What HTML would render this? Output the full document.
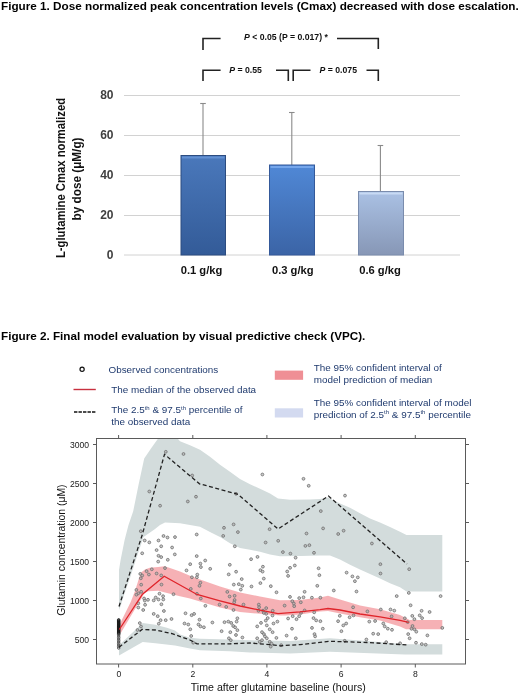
<!DOCTYPE html>
<html><head><meta charset="utf-8"><style>
html,body{margin:0;padding:0;background:#fff;width:520px;height:695px;overflow:hidden}
svg{display:block;will-change:transform;font-family:"Liberation Sans",sans-serif}
</style></head><body>
<svg width="520" height="695" viewBox="0 0 520 695">
<defs>
<linearGradient id="b1" x1="0" y1="0" x2="0" y2="1"><stop offset="0" stop-color="#4a78bb"/><stop offset="1" stop-color="#335b98"/></linearGradient>
<linearGradient id="b2" x1="0" y1="0" x2="0" y2="1"><stop offset="0" stop-color="#5088d6"/><stop offset="1" stop-color="#3b64a6"/></linearGradient>
<linearGradient id="b3" x1="0" y1="0" x2="0" y2="1"><stop offset="0" stop-color="#aac1e4"/><stop offset="1" stop-color="#8797b6"/></linearGradient>
</defs>
<!-- Figure 1 -->
<text x="1" y="9.6" font-size="11.73" font-weight="bold" fill="#000">Figure 1. Dose normalized peak concentration levels (Cmax) decreased with dose escalation.</text>
<g stroke="#d2d2d2" stroke-width="1">
<line x1="124" y1="95.5" x2="460" y2="95.5"/><line x1="124" y1="135.5" x2="460" y2="135.5"/><line x1="124" y1="175.5" x2="460" y2="175.5"/><line x1="124" y1="215.5" x2="460" y2="215.5"/><line x1="124" y1="255" x2="460" y2="255"/>
</g>
<g font-size="12" font-weight="bold" fill="#404040" text-anchor="end">
<text x="113.5" y="99.2">80</text><text x="113.5" y="139.2">60</text><text x="113.5" y="179.2">40</text><text x="113.5" y="219.2">20</text><text x="113.5" y="259.2">0</text>
</g>
<g stroke="#8a8a8a" stroke-width="1.1">
<line x1="203" y1="103.5" x2="203" y2="156"/><line x1="200.2" y1="103.5" x2="205.8" y2="103.5"/>
<line x1="291.8" y1="112.5" x2="291.8" y2="165"/><line x1="289" y1="112.5" x2="294.6" y2="112.5"/>
<line x1="380.4" y1="145.5" x2="380.4" y2="192"/><line x1="377.6" y1="145.5" x2="383.2" y2="145.5"/>
</g>
<rect x="181" y="155.5" width="44.5" height="99.5" fill="url(#b1)" stroke="#2c4c80" stroke-width="1"/>
<rect x="182" y="156.5" width="42.5" height="2" fill="#6a97d8" opacity="0.8"/>
<rect x="269.5" y="165" width="45" height="90" fill="url(#b2)" stroke="#34599a" stroke-width="1"/>
<rect x="270.5" y="166" width="43" height="2" fill="#7eaef0" opacity="0.8"/>
<rect x="358.5" y="191.5" width="45" height="63.5" fill="url(#b3)" stroke="#7a8cad" stroke-width="1"/>
<rect x="359.5" y="192.5" width="43" height="2" fill="#d0e0f8" opacity="0.8"/>
<g font-size="11.2" font-weight="bold" fill="#111" text-anchor="middle">
<text x="201.5" y="274.2">0.1 g/kg</text><text x="292.8" y="274.2">0.3 g/kg</text><text x="380" y="274.2">0.6 g/kg</text>
</g>
<g font-size="12" font-weight="bold" fill="#111" text-anchor="middle">
<text transform="translate(65.4,178) rotate(-90) scale(0.94,1)">L-glutamine Cmax normalized</text>
<text transform="translate(80.8,179) rotate(-90) scale(0.98,1)">by dose (μM/g)</text>
</g>
<g stroke="#222" stroke-width="1.6" fill="none">
<path d="M203,50 V38.5 H220.6"/><path d="M337,38.5 H378.3 V49"/>
<path d="M203,81 V70.3 H220.6"/><path d="M276,70.3 H288.3 V81"/>
<path d="M293.2,81 V70.3 H310.5"/><path d="M366.5,70.3 H378.3 V81"/>
</g>
<g font-size="8.7" font-weight="bold" fill="#111">
<text x="244" y="39.8"><tspan font-style="italic">P</tspan> &lt; 0.05 (P = 0.017) *</text>
<text x="229.2" y="72.8"><tspan font-style="italic">P</tspan> = 0.55</text>
<text x="319.6" y="72.8"><tspan font-style="italic">P</tspan> = 0.075</text>
</g>

<!-- Figure 2 -->
<text x="1" y="339.8" font-size="11.7" font-weight="bold" fill="#000">Figure 2. Final model evaluation by visual predictive check (VPC).</text>
<g font-size="9.9" fill="#1f3a6e">
<text x="108.5" y="372.6">Observed concentrations</text>
<text x="111.2" y="392.8">The median of the observed data</text>
<text x="111.2" y="413">The 2.5<tspan font-size="6" dy="-3.5">th</tspan><tspan dy="3.5"> &amp; 97.5</tspan><tspan font-size="6" dy="-3.5">th</tspan><tspan dy="3.5"> percentile of</tspan></text>
<text x="111.2" y="424.6">the observed data</text>
<text x="313.8" y="371">The 95% confident interval of</text>
<text x="313.8" y="383.4">model prediction of median</text>
<text x="313.8" y="405.7">The 95% confident interval of model</text>
<text x="313.8" y="417.8">prediction of 2.5<tspan font-size="6" dy="-3.5">th</tspan><tspan dy="3.5"> &amp; 97.5</tspan><tspan font-size="6" dy="-3.5">th</tspan><tspan dy="3.5"> percentile</tspan></text>
</g>
<circle cx="82.1" cy="369.3" r="2.1" fill="none" stroke="#111" stroke-width="1.2"/>
<line x1="73.5" y1="389.5" x2="95.8" y2="389.5" stroke="#c8303f" stroke-width="1.4"/>
<line x1="74" y1="412" x2="95.4" y2="412" stroke="#111" stroke-width="1.4" stroke-dasharray="3.4,1.1"/>
<rect x="274.8" y="370.6" width="28.3" height="9.2" fill="#ef8f95"/>
<rect x="274.8" y="408.3" width="28.3" height="9.2" fill="#d3daf0"/>

<!-- plot area -->
<clipPath id="pc"><rect x="97.5" y="439" width="367.5" height="224"/></clipPath>
<g clip-path="url(#pc)">
<polygon points="119.0,610.0 119.0,570.0 120.6,560.0 124.6,540.0 128.5,525.0 133.2,511.2 138.5,485.0 144.2,458.6 151.5,447.7 159.2,437.0 176.2,437.0 180.0,441.2 190.0,445.2 200.0,449.8 210.0,456.8 220.0,464.8 230.0,471.8 240.0,479.0 250.0,484.2 260.0,488.8 270.0,493.4 278.0,498.6 290.0,499.7 310.0,499.4 320.0,499.0 328.0,497.5 340.0,503.6 350.0,507.7 360.0,513.2 370.0,518.5 380.0,522.5 390.0,527.1 400.0,531.7 406.5,535.0 442.3,535.0 442.3,591.5 406.5,591.5 400.0,587.3 390.0,583.3 380.0,578.6 370.0,574.0 360.0,569.4 350.0,564.8 340.0,559.5 330.0,555.6 320.0,555.4 300.0,556.0 280.0,556.2 270.0,554.6 260.0,551.8 250.0,549.8 240.0,548.0 230.0,543.2 220.0,537.0 210.0,531.9 200.0,526.7 180.0,523.3 165.0,522.5 160.0,525.0 154.7,529.3 143.5,537.0 136.5,558.0 130.0,578.0 124.0,595.0 121.0,605.0" fill="#d3dcdc"/>
<polygon points="119.0,645.3 142.7,623.1 155.4,624.8 166.9,627.7 175.0,630.5 180.0,634.6 190.0,637.7 200.0,638.8 220.0,639.2 250.0,640.3 290.0,641.0 330.0,638.3 370.0,641.2 405.0,644.2 442.3,644.2 442.3,654.6 405.0,654.6 330.0,651.8 290.0,653.6 250.0,652.4 230.0,651.2 200.0,650.2 190.0,648.4 175.0,645.6 155.4,643.3 142.7,642.1 119.0,655.4" fill="#d3dcdc"/>
<polygon points="119.6,624.5 130.7,602.0 135.0,590.9 138.7,579.3 141.0,572.4 145.0,569.5 149.7,567.8 158.0,567.0 164.5,566.3 170.0,568.1 180.0,571.5 190.0,575.8 200.0,579.5 220.0,586.5 240.0,592.5 260.0,596.5 280.0,600.3 300.0,600.0 320.0,597.5 328.0,595.8 340.0,599.6 360.0,605.4 380.0,609.2 400.0,615.0 409.6,620.0 442.3,620.0 442.3,629.3 406.0,629.3 400.0,626.5 380.0,620.4 360.0,617.2 340.0,613.5 328.0,611.0 320.0,611.5 300.0,614.6 285.0,615.6 280.0,615.5 260.0,613.8 240.0,611.9 220.0,607.5 210.0,604.5 200.0,601.5 190.0,598.5 180.0,596.2 170.0,593.8 158.3,590.7 148.2,591.2 144.0,593.5 142.0,597.5 136.5,606.5 120.5,633.5" fill="#f4a3a8" fill-opacity="0.85"/>
<filter id="sb" x="-50%" y="-50%" width="200%" height="200%"><feGaussianBlur stdDeviation="0.3"/></filter>
<g fill="#a8a8a8" fill-opacity="0.6" stroke="#777" stroke-width="0.9" filter="url(#sb)">
<circle cx="290.0" cy="596.9" r="1.4"/>
<circle cx="304.6" cy="591.8" r="1.4"/>
<circle cx="299.2" cy="598.1" r="1.4"/>
<circle cx="303.5" cy="597.3" r="1.4"/>
<circle cx="311.9" cy="597.7" r="1.4"/>
<circle cx="292.3" cy="601.2" r="1.4"/>
<circle cx="293.8" cy="603.5" r="1.4"/>
<circle cx="294.2" cy="606.2" r="1.4"/>
<circle cx="284.6" cy="605.6" r="1.4"/>
<circle cx="300.8" cy="602.3" r="1.4"/>
<circle cx="304.6" cy="610.4" r="1.4"/>
<circle cx="292.7" cy="616.2" r="1.4"/>
<circle cx="288.1" cy="618.5" r="1.4"/>
<circle cx="296.5" cy="619.2" r="1.4"/>
<circle cx="299.2" cy="616.2" r="1.4"/>
<circle cx="313.5" cy="618.1" r="1.4"/>
<circle cx="316.2" cy="620.4" r="1.4"/>
<circle cx="314.2" cy="612.3" r="1.4"/>
<circle cx="317.3" cy="585.8" r="1.4"/>
<circle cx="333.8" cy="590.5" r="1.4"/>
<circle cx="356.5" cy="591.5" r="1.4"/>
<circle cx="320.4" cy="597.7" r="1.4"/>
<circle cx="353.1" cy="607.3" r="1.4"/>
<circle cx="339.8" cy="615.8" r="1.4"/>
<circle cx="349.6" cy="617.3" r="1.4"/>
<circle cx="353.5" cy="615.4" r="1.4"/>
<circle cx="338.1" cy="621.2" r="1.4"/>
<circle cx="346.2" cy="623.5" r="1.4"/>
<circle cx="320.4" cy="621.2" r="1.4"/>
<circle cx="410.6" cy="605.3" r="1.4"/>
<circle cx="421.6" cy="610.8" r="1.4"/>
<circle cx="429.6" cy="612.0" r="1.4"/>
<circle cx="419.7" cy="615.4" r="1.4"/>
<circle cx="422.1" cy="618.1" r="1.4"/>
<circle cx="412.3" cy="615.9" r="1.4"/>
<circle cx="414.4" cy="619.2" r="1.4"/>
<circle cx="404.8" cy="618.3" r="1.4"/>
<circle cx="407.7" cy="622.1" r="1.4"/>
<circle cx="412.5" cy="626.0" r="1.4"/>
<circle cx="411.5" cy="628.8" r="1.4"/>
<circle cx="414.4" cy="629.3" r="1.4"/>
<circle cx="416.3" cy="631.7" r="1.4"/>
<circle cx="442.3" cy="627.9" r="1.4"/>
<circle cx="408.2" cy="634.1" r="1.4"/>
<circle cx="409.6" cy="638.3" r="1.4"/>
<circle cx="427.4" cy="635.4" r="1.4"/>
<circle cx="163.5" cy="536.0" r="1.4"/>
<circle cx="167.5" cy="537.5" r="1.4"/>
<circle cx="175.0" cy="537.1" r="1.4"/>
<circle cx="196.7" cy="534.5" r="1.4"/>
<circle cx="161.2" cy="546.3" r="1.4"/>
<circle cx="172.1" cy="547.5" r="1.4"/>
<circle cx="174.8" cy="554.4" r="1.4"/>
<circle cx="161.2" cy="557.1" r="1.4"/>
<circle cx="167.8" cy="559.8" r="1.4"/>
<circle cx="196.7" cy="556.1" r="1.4"/>
<circle cx="205.2" cy="560.5" r="1.4"/>
<circle cx="190.2" cy="564.2" r="1.4"/>
<circle cx="200.4" cy="563.6" r="1.4"/>
<circle cx="200.9" cy="567.1" r="1.4"/>
<circle cx="210.2" cy="568.8" r="1.4"/>
<circle cx="233.6" cy="524.4" r="1.4"/>
<circle cx="224.0" cy="527.8" r="1.4"/>
<circle cx="237.9" cy="532.1" r="1.4"/>
<circle cx="223.2" cy="535.9" r="1.4"/>
<circle cx="234.8" cy="546.3" r="1.4"/>
<circle cx="269.6" cy="529.2" r="1.4"/>
<circle cx="265.6" cy="542.5" r="1.4"/>
<circle cx="278.2" cy="540.8" r="1.4"/>
<circle cx="251.1" cy="559.2" r="1.4"/>
<circle cx="257.5" cy="556.9" r="1.4"/>
<circle cx="229.8" cy="564.8" r="1.4"/>
<circle cx="236.1" cy="571.7" r="1.4"/>
<circle cx="228.7" cy="574.4" r="1.4"/>
<circle cx="262.9" cy="566.7" r="1.4"/>
<circle cx="260.4" cy="570.2" r="1.4"/>
<circle cx="241.7" cy="579.1" r="1.4"/>
<circle cx="263.8" cy="578.6" r="1.4"/>
<circle cx="306.5" cy="533.5" r="1.4"/>
<circle cx="338.2" cy="534.0" r="1.4"/>
<circle cx="305.4" cy="545.9" r="1.4"/>
<circle cx="309.4" cy="545.2" r="1.4"/>
<circle cx="282.9" cy="552.1" r="1.4"/>
<circle cx="290.4" cy="553.6" r="1.4"/>
<circle cx="295.6" cy="557.7" r="1.4"/>
<circle cx="314.0" cy="552.8" r="1.4"/>
<circle cx="294.8" cy="565.5" r="1.4"/>
<circle cx="290.1" cy="567.8" r="1.4"/>
<circle cx="287.2" cy="571.5" r="1.4"/>
<circle cx="288.1" cy="575.9" r="1.4"/>
<circle cx="318.6" cy="568.3" r="1.4"/>
<circle cx="319.4" cy="575.2" r="1.4"/>
<circle cx="308.7" cy="485.8" r="1.4"/>
<circle cx="345.0" cy="495.6" r="1.4"/>
<circle cx="320.8" cy="511.1" r="1.4"/>
<circle cx="323.1" cy="528.4" r="1.4"/>
<circle cx="343.6" cy="530.7" r="1.4"/>
<circle cx="371.9" cy="543.5" r="1.4"/>
<circle cx="380.4" cy="564.2" r="1.4"/>
<circle cx="409.2" cy="569.2" r="1.4"/>
<circle cx="408.8" cy="592.9" r="1.4"/>
<circle cx="396.7" cy="596.1" r="1.4"/>
<circle cx="440.6" cy="596.1" r="1.4"/>
<circle cx="139.8" cy="623.1" r="1.4"/>
<circle cx="141.0" cy="626.5" r="1.4"/>
<circle cx="137.5" cy="630.0" r="1.4"/>
<circle cx="157.7" cy="616.2" r="1.4"/>
<circle cx="160.6" cy="620.2" r="1.4"/>
<circle cx="158.8" cy="623.7" r="1.4"/>
<circle cx="165.7" cy="620.2" r="1.4"/>
<circle cx="171.5" cy="619.0" r="1.4"/>
<circle cx="242.3" cy="585.8" r="1.4"/>
<circle cx="251.5" cy="586.5" r="1.4"/>
<circle cx="260.4" cy="583.1" r="1.4"/>
<circle cx="270.8" cy="586.2" r="1.4"/>
<circle cx="276.5" cy="592.3" r="1.4"/>
<circle cx="240.8" cy="589.6" r="1.4"/>
<circle cx="243.5" cy="604.6" r="1.4"/>
<circle cx="258.8" cy="604.6" r="1.4"/>
<circle cx="266.2" cy="608.1" r="1.4"/>
<circle cx="272.7" cy="610.8" r="1.4"/>
<circle cx="258.5" cy="610.8" r="1.4"/>
<circle cx="266.2" cy="613.8" r="1.4"/>
<circle cx="267.7" cy="618.1" r="1.4"/>
<circle cx="233.8" cy="584.6" r="1.4"/>
<circle cx="238.8" cy="584.2" r="1.4"/>
<circle cx="200.4" cy="582.7" r="1.4"/>
<circle cx="227.3" cy="591.9" r="1.4"/>
<circle cx="229.6" cy="596.5" r="1.4"/>
<circle cx="234.6" cy="595.8" r="1.4"/>
<circle cx="234.6" cy="600.0" r="1.4"/>
<circle cx="234.2" cy="602.3" r="1.4"/>
<circle cx="200.8" cy="598.5" r="1.4"/>
<circle cx="205.4" cy="605.8" r="1.4"/>
<circle cx="219.6" cy="604.6" r="1.4"/>
<circle cx="226.2" cy="606.9" r="1.4"/>
<circle cx="186.5" cy="570.4" r="1.4"/>
<circle cx="165.0" cy="568.1" r="1.4"/>
<circle cx="191.9" cy="577.3" r="1.4"/>
<circle cx="196.9" cy="577.3" r="1.4"/>
<circle cx="197.3" cy="574.6" r="1.4"/>
<circle cx="161.2" cy="575.4" r="1.4"/>
<circle cx="161.5" cy="584.6" r="1.4"/>
<circle cx="173.5" cy="594.2" r="1.4"/>
<circle cx="163.1" cy="596.2" r="1.4"/>
<circle cx="196.9" cy="593.8" r="1.4"/>
<circle cx="165.8" cy="451.8" r="1.4"/>
<circle cx="183.5" cy="454.0" r="1.4"/>
<circle cx="192.2" cy="475.5" r="1.4"/>
<circle cx="149.3" cy="491.5" r="1.4"/>
<circle cx="160.1" cy="505.7" r="1.4"/>
<circle cx="187.8" cy="501.5" r="1.4"/>
<circle cx="196.0" cy="496.7" r="1.4"/>
<circle cx="262.4" cy="474.5" r="1.4"/>
<circle cx="236.0" cy="493.8" r="1.4"/>
<circle cx="303.5" cy="478.8" r="1.4"/>
<circle cx="140.8" cy="531.2" r="1.4"/>
<circle cx="144.7" cy="540.5" r="1.4"/>
<circle cx="149.3" cy="542.4" r="1.4"/>
<circle cx="158.5" cy="540.5" r="1.4"/>
<circle cx="156.6" cy="550.1" r="1.4"/>
<circle cx="142.2" cy="553.3" r="1.4"/>
<circle cx="158.5" cy="555.8" r="1.4"/>
<circle cx="158.2" cy="561.6" r="1.4"/>
<circle cx="151.8" cy="569.3" r="1.4"/>
<circle cx="146.6" cy="571.2" r="1.4"/>
<circle cx="140.3" cy="573.9" r="1.4"/>
<circle cx="142.2" cy="575.5" r="1.4"/>
<circle cx="148.9" cy="574.5" r="1.4"/>
<circle cx="156.6" cy="573.5" r="1.4"/>
<circle cx="140.8" cy="578.3" r="1.4"/>
<circle cx="141.2" cy="584.7" r="1.4"/>
<circle cx="136.4" cy="589.9" r="1.4"/>
<circle cx="262.6" cy="571.6" r="1.4"/>
<circle cx="199.5" cy="585.8" r="1.4"/>
<circle cx="346.6" cy="572.6" r="1.4"/>
<circle cx="352.4" cy="576.4" r="1.4"/>
<circle cx="357.8" cy="577.4" r="1.4"/>
<circle cx="354.9" cy="581.2" r="1.4"/>
<circle cx="380.5" cy="573.5" r="1.4"/>
<circle cx="138.3" cy="593.3" r="1.4"/>
<circle cx="141.2" cy="591.8" r="1.4"/>
<circle cx="136.4" cy="594.7" r="1.4"/>
<circle cx="144.1" cy="598.5" r="1.4"/>
<circle cx="148.0" cy="599.8" r="1.4"/>
<circle cx="153.7" cy="600.4" r="1.4"/>
<circle cx="155.7" cy="597.5" r="1.4"/>
<circle cx="159.5" cy="593.7" r="1.4"/>
<circle cx="163.3" cy="599.5" r="1.4"/>
<circle cx="158.5" cy="599.5" r="1.4"/>
<circle cx="138.3" cy="603.3" r="1.4"/>
<circle cx="138.3" cy="607.5" r="1.4"/>
<circle cx="145.1" cy="604.8" r="1.4"/>
<circle cx="143.2" cy="610.0" r="1.4"/>
<circle cx="161.4" cy="604.3" r="1.4"/>
<circle cx="163.9" cy="611.0" r="1.4"/>
<circle cx="153.7" cy="613.9" r="1.4"/>
<circle cx="185.5" cy="613.3" r="1.4"/>
<circle cx="191.6" cy="615.2" r="1.4"/>
<circle cx="194.1" cy="613.9" r="1.4"/>
<circle cx="184.5" cy="623.5" r="1.4"/>
<circle cx="188.3" cy="624.5" r="1.4"/>
<circle cx="190.3" cy="629.3" r="1.4"/>
<circle cx="191.2" cy="636.0" r="1.4"/>
<circle cx="193.2" cy="642.7" r="1.4"/>
<circle cx="144.8" cy="600.6" r="1.4"/>
<circle cx="190.8" cy="588.9" r="1.4"/>
<circle cx="233.5" cy="610.0" r="1.4"/>
<circle cx="259.1" cy="607.2" r="1.4"/>
<circle cx="263.0" cy="610.6" r="1.4"/>
<circle cx="199.5" cy="619.7" r="1.4"/>
<circle cx="198.5" cy="624.5" r="1.4"/>
<circle cx="200.5" cy="626.4" r="1.4"/>
<circle cx="203.9" cy="627.3" r="1.4"/>
<circle cx="212.4" cy="622.5" r="1.4"/>
<circle cx="224.5" cy="622.2" r="1.4"/>
<circle cx="228.3" cy="621.6" r="1.4"/>
<circle cx="231.2" cy="622.9" r="1.4"/>
<circle cx="221.6" cy="631.2" r="1.4"/>
<circle cx="230.3" cy="632.2" r="1.4"/>
<circle cx="233.2" cy="626.0" r="1.4"/>
<circle cx="235.1" cy="627.3" r="1.4"/>
<circle cx="236.6" cy="621.6" r="1.4"/>
<circle cx="237.4" cy="618.3" r="1.4"/>
<circle cx="237.4" cy="630.2" r="1.4"/>
<circle cx="236.0" cy="635.0" r="1.4"/>
<circle cx="242.4" cy="637.5" r="1.4"/>
<circle cx="228.9" cy="638.3" r="1.4"/>
<circle cx="230.8" cy="640.2" r="1.4"/>
<circle cx="257.2" cy="626.4" r="1.4"/>
<circle cx="261.0" cy="622.9" r="1.4"/>
<circle cx="265.8" cy="620.6" r="1.4"/>
<circle cx="273.5" cy="623.5" r="1.4"/>
<circle cx="277.4" cy="621.6" r="1.4"/>
<circle cx="266.8" cy="625.4" r="1.4"/>
<circle cx="269.7" cy="629.3" r="1.4"/>
<circle cx="262.0" cy="632.2" r="1.4"/>
<circle cx="263.9" cy="634.1" r="1.4"/>
<circle cx="264.9" cy="636.4" r="1.4"/>
<circle cx="272.6" cy="632.2" r="1.4"/>
<circle cx="276.4" cy="637.9" r="1.4"/>
<circle cx="257.2" cy="638.3" r="1.4"/>
<circle cx="259.7" cy="641.8" r="1.4"/>
<circle cx="262.0" cy="640.2" r="1.4"/>
<circle cx="266.8" cy="638.3" r="1.4"/>
<circle cx="269.7" cy="641.8" r="1.4"/>
<circle cx="271.6" cy="643.7" r="1.4"/>
<circle cx="270.7" cy="646.6" r="1.4"/>
<circle cx="281.2" cy="645.2" r="1.4"/>
<circle cx="263.8" cy="612.9" r="1.4"/>
<circle cx="272.5" cy="615.5" r="1.4"/>
<circle cx="301.0" cy="612.9" r="1.4"/>
<circle cx="343.3" cy="625.4" r="1.4"/>
<circle cx="367.4" cy="611.4" r="1.4"/>
<circle cx="369.3" cy="621.6" r="1.4"/>
<circle cx="375.1" cy="621.0" r="1.4"/>
<circle cx="292.0" cy="628.7" r="1.4"/>
<circle cx="312.0" cy="627.9" r="1.4"/>
<circle cx="322.8" cy="628.7" r="1.4"/>
<circle cx="341.4" cy="631.2" r="1.4"/>
<circle cx="314.5" cy="634.1" r="1.4"/>
<circle cx="315.1" cy="636.4" r="1.4"/>
<circle cx="286.6" cy="635.6" r="1.4"/>
<circle cx="295.8" cy="638.3" r="1.4"/>
<circle cx="344.7" cy="640.8" r="1.4"/>
<circle cx="366.4" cy="639.5" r="1.4"/>
<circle cx="373.2" cy="633.7" r="1.4"/>
<circle cx="380.8" cy="609.5" r="1.4"/>
<circle cx="390.5" cy="609.5" r="1.4"/>
<circle cx="394.3" cy="610.6" r="1.4"/>
<circle cx="391.6" cy="616.4" r="1.4"/>
<circle cx="383.3" cy="623.5" r="1.4"/>
<circle cx="384.7" cy="626.4" r="1.4"/>
<circle cx="387.8" cy="628.7" r="1.4"/>
<circle cx="392.0" cy="629.8" r="1.4"/>
<circle cx="378.2" cy="634.1" r="1.4"/>
<circle cx="386.2" cy="642.2" r="1.4"/>
<circle cx="400.1" cy="643.3" r="1.4"/>
<circle cx="416.0" cy="642.7" r="1.4"/>
<circle cx="421.8" cy="644.1" r="1.4"/>
<circle cx="425.7" cy="644.7" r="1.4"/>
</g>
<g fill="none" stroke-width="0.8">
<circle cx="118.7" cy="619.8" r="1.25" stroke="#111"/>
<circle cx="118.7" cy="620.5" r="1.25" stroke="#111"/>
<circle cx="118.7" cy="621.2" r="1.25" stroke="#111"/>
<circle cx="118.7" cy="621.9" r="1.25" stroke="#111"/>
<circle cx="118.7" cy="622.6" r="1.25" stroke="#111"/>
<circle cx="118.7" cy="623.3" r="1.25" stroke="#111"/>
<circle cx="118.7" cy="624.0" r="1.25" stroke="#111"/>
<circle cx="118.7" cy="624.7" r="1.25" stroke="#111"/>
<circle cx="118.7" cy="625.4" r="1.25" stroke="#111"/>
<circle cx="118.7" cy="626.1" r="1.25" stroke="#111"/>
<circle cx="118.7" cy="626.8" r="1.25" stroke="#111"/>
<circle cx="118.7" cy="627.5" r="1.25" stroke="#111"/>
<circle cx="118.7" cy="628.2" r="1.25" stroke="#111"/>
<circle cx="118.7" cy="628.9" r="1.25" stroke="#111"/>
<circle cx="118.7" cy="629.6" r="1.25" stroke="#111"/>
<circle cx="118.7" cy="630.3" r="1.25" stroke="#111"/>
<circle cx="118.7" cy="631.0" r="1.25" stroke="#111"/>
<circle cx="118.7" cy="631.7" r="1.25" stroke="#111"/>
<circle cx="118.7" cy="632.4" r="1.25" stroke="#111"/>
<circle cx="118.7" cy="633.1" r="1.25" stroke="#111"/>
<circle cx="118.7" cy="633.8" r="1.25" stroke="#111"/>
<circle cx="118.7" cy="634.5" r="1.25" stroke="#444"/>
<circle cx="118.7" cy="636.0" r="1.25" stroke="#444"/>
<circle cx="118.7" cy="637.5" r="1.25" stroke="#444"/>
<circle cx="118.7" cy="639.0" r="1.25" stroke="#444"/>
<circle cx="118.7" cy="640.5" r="1.25" stroke="#444"/>
<circle cx="118.7" cy="642.0" r="1.25" stroke="#444"/>
<circle cx="118.7" cy="643.5" r="1.25" stroke="#444"/>
<circle cx="118.7" cy="645.0" r="1.25" stroke="#444"/>
<circle cx="118.7" cy="646.5" r="1.25" stroke="#444"/>
<circle cx="118.7" cy="648.0" r="1.25" stroke="#444"/>
</g>
<polyline points="119.3,629.5 142.5,594.2 164.2,576.2 197.0,594.5 220.0,600.8 240.0,606.0 260.0,610.2 278.0,613.6 300.0,611.9 320.0,609.6 328.0,608.5 340.0,610.0 360.0,614.0 380.0,616.9 400.0,620.4 408.7,622.4" fill="none" stroke="#e0252b" stroke-width="1.3"/>
<polyline points="119.0,606.5 142.3,534.6 164.5,454.3 199.5,483.8 238.0,494.3 278.0,529.0 328.5,496.0 407.0,564.0" fill="none" stroke="#222" stroke-width="1.3" stroke-dasharray="4,2.5"/>
<polyline points="119.0,647.3 142.1,629.4 155.4,630.0 171.5,633.5 190.0,640.0 197.0,643.8 230.0,643.8 250.0,643.0 270.0,644.6 280.0,645.8 300.0,644.6 330.0,641.3 370.0,642.6 406.4,644.9" fill="none" stroke="#222" stroke-width="1.3" stroke-dasharray="4,2.5"/>
</g>
<rect x="96.5" y="438.5" width="369" height="225.5" fill="none" stroke="#5a5a5a" stroke-width="1"/>
<g stroke="#5a5a5a" stroke-width="1">
<line x1="118.6" y1="664" x2="118.6" y2="667.5"/><line x1="118.6" y1="438.5" x2="118.6" y2="435"/>
<line x1="192.8" y1="664" x2="192.8" y2="667.5"/><line x1="192.8" y1="438.5" x2="192.8" y2="435"/>
<line x1="266.9" y1="664" x2="266.9" y2="667.5"/><line x1="266.9" y1="438.5" x2="266.9" y2="435"/>
<line x1="341.1" y1="664" x2="341.1" y2="667.5"/><line x1="341.1" y1="438.5" x2="341.1" y2="435"/>
<line x1="415.3" y1="664" x2="415.3" y2="667.5"/><line x1="415.3" y1="438.5" x2="415.3" y2="435"/>
<line x1="96.5" y1="444.5" x2="93" y2="444.5"/><line x1="465.5" y1="444.5" x2="469" y2="444.5"/>
<line x1="96.5" y1="483.5" x2="93" y2="483.5"/><line x1="465.5" y1="483.5" x2="469" y2="483.5"/>
<line x1="96.5" y1="522.5" x2="93" y2="522.5"/><line x1="465.5" y1="522.5" x2="469" y2="522.5"/>
<line x1="96.5" y1="561.5" x2="93" y2="561.5"/><line x1="465.5" y1="561.5" x2="469" y2="561.5"/>
<line x1="96.5" y1="600.5" x2="93" y2="600.5"/><line x1="465.5" y1="600.5" x2="469" y2="600.5"/>
<line x1="96.5" y1="639.5" x2="93" y2="639.5"/><line x1="465.5" y1="639.5" x2="469" y2="639.5"/>
</g>
<g font-size="8.6" fill="#1a1a1a" text-anchor="end">
<text x="89" y="447.6">3000</text><text x="89" y="486.6">2500</text><text x="89" y="525.6">2000</text><text x="89" y="564.6">1500</text><text x="89" y="603.6">1000</text><text x="89" y="642.6">500</text>
</g>
<g font-size="8.6" fill="#1a1a1a" text-anchor="middle">
<text x="118.8" y="677.2">0</text><text x="193" y="677.2">2</text><text x="267" y="677.2">4</text><text x="341.2" y="677.2">6</text><text x="415.4" y="677.2">8</text>
</g>
<text x="190.8" y="691" font-size="10.6" fill="#111">Time after glutamine baseline (hours)</text>
<text transform="translate(64.5,550.1) rotate(-90)" font-size="10.4" fill="#111" text-anchor="middle">Glutamin concentration (μM)</text>
</svg>
</body></html>
